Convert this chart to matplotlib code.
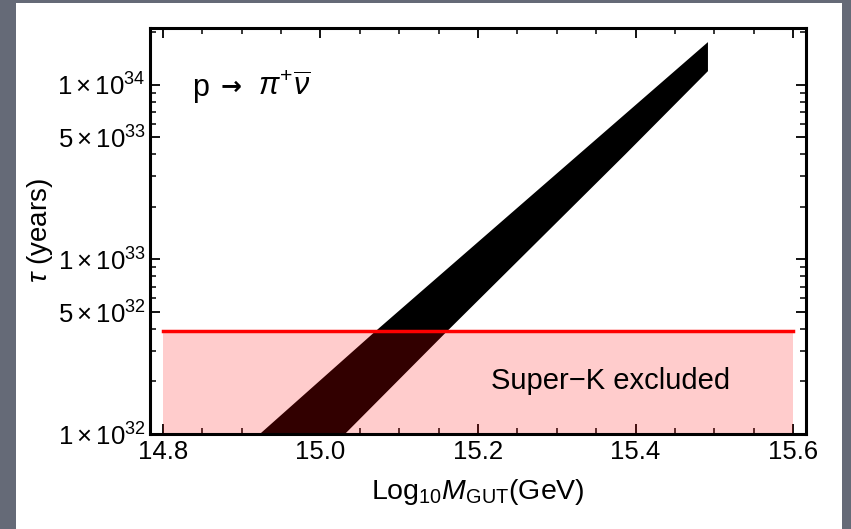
import numpy as np
import matplotlib
matplotlib.use('Agg')
import matplotlib.pyplot as plt
from matplotlib.patches import Rectangle
from matplotlib.ticker import FixedLocator, FuncFormatter, MultipleLocator

# 字型設定：Arial 風格
plt.rcParams['font.family'] = ['Liberation Sans', 'DejaVu Sans']
plt.rcParams['mathtext.fontset'] = 'custom'
plt.rcParams['mathtext.rm'] = 'Liberation Sans'
plt.rcParams['mathtext.it'] = 'Liberation Sans:italic'
plt.rcParams['mathtext.bf'] = 'Liberation Sans:bold'

# 資料：壽命帶狀區域的上下邊界 (Log10 M_GUT, tau)
upper_x = [14.923, 15.069, 15.279, 15.492]
upper_tau = [1.0e32, 3.85e32, 2.57e33, 1.76e34]
lower_x = [15.031, 15.160, 15.387, 15.492]
lower_tau = [1.0e32, 3.85e32, 4.0e33, 1.20e34]

superk_bound = 3.9e32
superk_x = [14.8, 15.6]

x_ticks = [14.8, 15.0, 15.2, 15.4, 15.6]
y_ticks = [1e32, 5e32, 1e33, 5e33, 1e34]

fig = plt.figure(figsize=(8.51, 5.29), dpi=100)
fig.patch.set_facecolor('#656a77')
fig.patches.append(Rectangle((16 / 851, 0), (842 - 16) / 851, (529 - 3) / 529,
                             transform=fig.transFigure, facecolor='white',
                             edgecolor='none', zorder=-1))

ax = fig.add_axes([150 / 851, (529 - 434) / 529, (806 - 150) / 851, (434 - 28) / 529])
ax.set_yscale('log')

# 黑色帶狀區域
band_x = list(upper_x) + list(lower_x[::-1])
band_y = list(upper_tau) + list(lower_tau[::-1])
ax.fill(band_x, band_y, color='black', lw=0, zorder=1)

# Super-K 排除區
ax.fill_between(superk_x, 1e32, superk_bound, color='red', alpha=0.2, lw=0, zorder=2)
ax.plot(superk_x, [superk_bound, superk_bound], color='red', lw=2.5, zorder=3)

ax.set_xlim(14.7835, 15.6165)
ax.set_ylim(1e32, 2.12e34)

ax.xaxis.set_major_locator(FixedLocator(x_ticks))
ax.xaxis.set_minor_locator(MultipleLocator(0.05))
ax.xaxis.set_major_formatter(FuncFormatter(lambda v, p: f'{v:.1f}'))

ax.yaxis.set_major_locator(FixedLocator(y_ticks))
minor_y = [m * 10.0**e for e in (32, 33, 34) for m in range(1, 10)]
ax.yaxis.set_minor_locator(FixedLocator([v for v in minor_y if v not in y_ticks]))


def sci_fmt(v, p):
    e = int(np.floor(np.log10(v) + 1e-9))
    m = int(round(v / 10.0**e))
    return r'$%d\times10^{%d}$' % (m, e)


ax.yaxis.set_major_formatter(FuncFormatter(sci_fmt))
ax.yaxis.set_minor_formatter(FuncFormatter(lambda v, p: ''))

ax.tick_params(which='both', direction='in', top=True, right=True, colors='black')
ax.tick_params(which='major', length=7, width=1.3, labelsize=18.5)
ax.tick_params(which='minor', length=4, width=1.1)
ax.tick_params(axis='x', which='major', pad=4)
ax.tick_params(axis='y', which='major', pad=3)

for s in ax.spines.values():
    s.set_linewidth(2.2)

ax.set_xlabel(r'$\mathrm{Log}_{10}M_{\mathrm{GUT}}(\mathrm{GeV})$', fontsize=20.5, labelpad=10)
ax.set_ylabel(r'$\tau$ (years)', fontsize=20, labelpad=2)

# 衰變道標示：p → π+ ν̄
ax.text(0.064, 0.852, 'p', transform=ax.transAxes, fontsize=22, ha='left', va='center', zorder=5)
ax.text(0.107, 0.855, '\u2192', transform=ax.transAxes, fontsize=18, fontweight='bold',
        family=['DejaVu Sans'], ha='left', va='center', zorder=5)
ax.text(0.165, 0.852, r'$\pi^{+}\overline{\nu}$', transform=ax.transAxes,
        fontsize=22, ha='left', va='center', zorder=5)
ax.text(15.368, 2.0e32, 'Super\u2212K excluded', fontsize=21, ha='center', va='center', zorder=5)

plt.savefig('out.png', dpi=100, facecolor=fig.get_facecolor())
